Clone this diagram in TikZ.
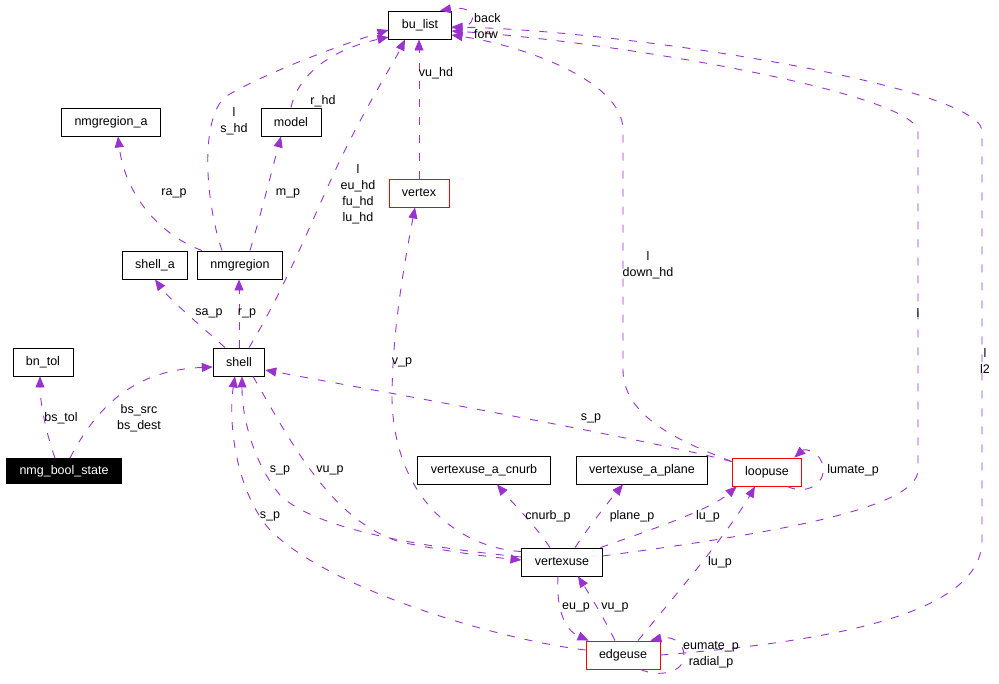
\documentclass[tikz,border=0pt]{standalone}
\usepackage{fontspec}
\setmainfont{Liberation Sans}
\usetikzlibrary{arrows.meta}
\definecolor{linkcol}{RGB}{154,50,205}
\tikzset{
  box/.style={draw=black, line width=0.9pt, fill=white, minimum height=28pt, inner xsep=13pt, inner ysep=0pt, font=\fontsize{12.5}{16}\selectfont},
  redbox/.style={box, draw=red},
  link/.style={draw=linkcol, line width=0.9pt, dash pattern=on 8pt off 10pt, -{Triangle[length=11pt,width=9pt]}},
  lbl/.style={align=center, inner sep=0pt, font=\fontsize{12.5}{16}\selectfont}
}
\begin{document}
\begin{tikzpicture}[x=1pt, y=-1pt]
\useasboundingbox (0,0) rectangle (999,683);
% classes
\foreach \nm/\x/\y/\txt in {bulist/420/25/bu\_list, nmgregiona/111/122/nmgregion\_a, model/291/122/model, shella/155/265/shell\_a, nmgregion/240/265/nmgregion, bntol/43/362/bn\_tol, shell/239/362/shell, cnurb/484/470/vertexuse\_a\_cnurb, plane/642/470/vertexuse\_a\_plane, vertexuse/562/562/vertexuse}
  \node[box] (\nm) at (\x,\y) {\txt};
\foreach \nm/\x/\y/\txt in {vertex/419/193/vertex, loopuse/767/472/loopuse, edgeuse/623/655/edgeuse}
  \node[redbox] (\nm) at (\x,\y) {\txt};
\node[box, fill=black, text=white, minimum height=25pt] (boolstate) at (64,471) {nmg\_bool\_state};
% links to bu_list
\draw[link] ([yshift=-3pt]bulist.east) .. controls (480,30) and (480,4) .. ([xshift=20pt]bulist.north);
\draw[link] ([xshift=-18pt]nmgregion.north) .. controls (205,200) and (200,120) .. (225,97) .. controls (260,75) and (340,45) .. ([yshift=-5pt]bulist.west);
\draw[link] (model.north) .. controls (298,75) and (330,50) .. ([yshift=-12pt]bulist.west);
\draw[link] ([xshift=10pt]shell.north) .. controls (290,280) and (320,200) .. (345,150) .. controls (370,100) and (395,60) .. ([xshift=-15pt]bulist.south);
\draw[link] (vertex.north) -- (vertex.north |- bulist.south);
\draw[link] ([yshift=-4pt]loopuse.north west) .. controls (690,445) and (623,420) .. (623,370) -- (623,130) .. controls (623,80) and (520,45) .. ([yshift=-10pt]bulist.east);
\draw[link] ([yshift=6pt]vertexuse.east) .. controls (760,535) and (918,510) .. (918,470) -- (918,130) .. controls (905,90) and (600,40) .. ([yshift=-6pt]bulist.east);
\draw[link] (edgeuse.east) .. controls (850,640) and (982,610) .. (982,540) -- (982,130) .. controls (975,85) and (620,30) .. ([yshift=-2pt]bulist.east);
% upper classes
\draw[link] ([xshift=5pt]nmgregion.north west) .. controls (160,235) and (125,195) .. ([xshift=7pt]nmgregiona.south);
\draw[link] ([xshift=10pt]nmgregion.north) .. controls (262,210) and (272,170) .. ([xshift=-10pt]model.south);
\draw[link] ([xshift=-14pt]shell.north) .. controls (200,325) and (170,300) .. (shella.south);
\draw[link] (shell.north) -- (shell.north |- nmgregion.south);
\draw[link] ([xshift=-9pt]boolstate.north) .. controls (45,430) and (40,400) .. ([xshift=-3pt]bntol.south);
\draw[link] ([xshift=6pt]boolstate.north) .. controls (100,400) and (140,370) .. ([yshift=-5pt]shell.west);
% links to shell
\draw[link] ([yshift=-4pt]loopuse.north west) .. controls (650,440) and (400,395) .. ([yshift=-8pt]shell.east);
\draw[link] ([yshift=5pt]vertexuse.west) .. controls (400,545) and (310,525) .. (280,495) .. controls (255,465) and (242,420) .. ([xshift=3pt]shell.south);
\draw[link] ([xshift=14pt]shell.south) .. controls (290,440) and (330,520) .. (400,542) .. controls (450,552) and (490,557) .. ([yshift=2pt]vertexuse.west);
\draw[link] ([yshift=5pt]edgeuse.west) .. controls (500,640) and (330,590) .. (270,530) .. controls (235,490) and (228,420) .. ([xshift=-4pt]shell.south);
% vertexuse
\draw[link] ([yshift=-4pt]vertexuse.north west) .. controls (460,548) and (395,500) .. (392,400) .. controls (392,330) and (405,260) .. ([xshift=-4pt]vertex.south);
\draw[link] ([xshift=-12pt]vertexuse.north) .. controls (535,525) and (510,500) .. ([xshift=13pt]cnurb.south);
\draw[link] ([xshift=13pt]vertexuse.north) .. controls (590,525) and (610,500) .. ([xshift=-19pt]plane.south);
\draw[link] ([xshift=-2pt]vertexuse.north east) .. controls (650,530) and (710,510) .. ([xshift=5pt]loopuse.south west);
\draw[link] ([xshift=-4pt]vertexuse.south) .. controls (556,610) and (565,630) .. ([xshift=3pt]edgeuse.north west);
% loopuse and edgeuse
\draw[link] ([xshift=-15pt]loopuse.south east) .. controls (805,495) and (825,485) .. (823,468) .. controls (822,452) and (805,448) .. ([xshift=-8pt]loopuse.north east);
\draw[link] ([xshift=15pt]edgeuse.north) .. controls (680,590) and (730,530) .. ([xshift=-12pt]loopuse.south);
\draw[link] ([xshift=-8pt]edgeuse.north) .. controls (605,620) and (590,595) .. ([xshift=16pt]vertexuse.south);
\draw[link] ([xshift=-20pt]edgeuse.south east) .. controls (660,678) and (685,672) .. (684,655) .. controls (683,640) and (670,636) .. ([xshift=-10pt]edgeuse.north east);
% labels
\node[lbl, align=left, anchor=west] (lbackforw) at (474,26) {back\\forw};
\node[lbl] (lshd) at (234,121) {l\\s\_hd};
\node[lbl] (lrhd) at (323,101) {r\_hd};
\node[lbl] (lhds) at (358,194) {l\\eu\_hd\\fu\_hd\\lu\_hd};
\node[lbl] (lvuhd) at (436,73) {vu\_hd};
\node[lbl] (ldownhd) at (648,265) {l\\down\_hd};
\node[lbl] (lvul) at (918,313) {l};
\node[lbl] (leul) at (985,361) {l\\l2};
\node[lbl] (lrap) at (174,193) {ra\_p};
\node[lbl] (lmp) at (288,193) {m\_p};
\node[lbl] (lsap) at (209,313) {sa\_p};
\node[lbl] (lrp) at (247,313) {r\_p};
\node[lbl] (lbstol) at (61,418) {bs\_tol};
\node[lbl] (lbssrc) at (139,418) {bs\_src\\bs\_dest};
\node[lbl] (llusp) at (591,418) {s\_p};
\node[lbl] (lvp) at (402,362) {v\_p};
\node[lbl] (lvusp) at (280,470) {s\_p};
\node[lbl] (lvup) at (330,470) {vu\_p};
\node[lbl] (leusp) at (270,516) {s\_p};
\node[lbl] (lcnurb) at (548,516) {cnurb\_p};
\node[lbl] (lplane) at (632,516) {plane\_p};
\node[lbl] (lvulup) at (708,516) {lu\_p};
\node[lbl] (leulup) at (720,562) {lu\_p};
\node[lbl] (llumate) at (853,470) {lumate\_p};
\node[lbl] (leup) at (576,607) {eu\_p};
\node[lbl] (levup) at (615,607) {vu\_p};
\node[lbl] (leumate) at (711,655) {eumate\_p\\radial\_p};
\end{tikzpicture}
\end{document}
